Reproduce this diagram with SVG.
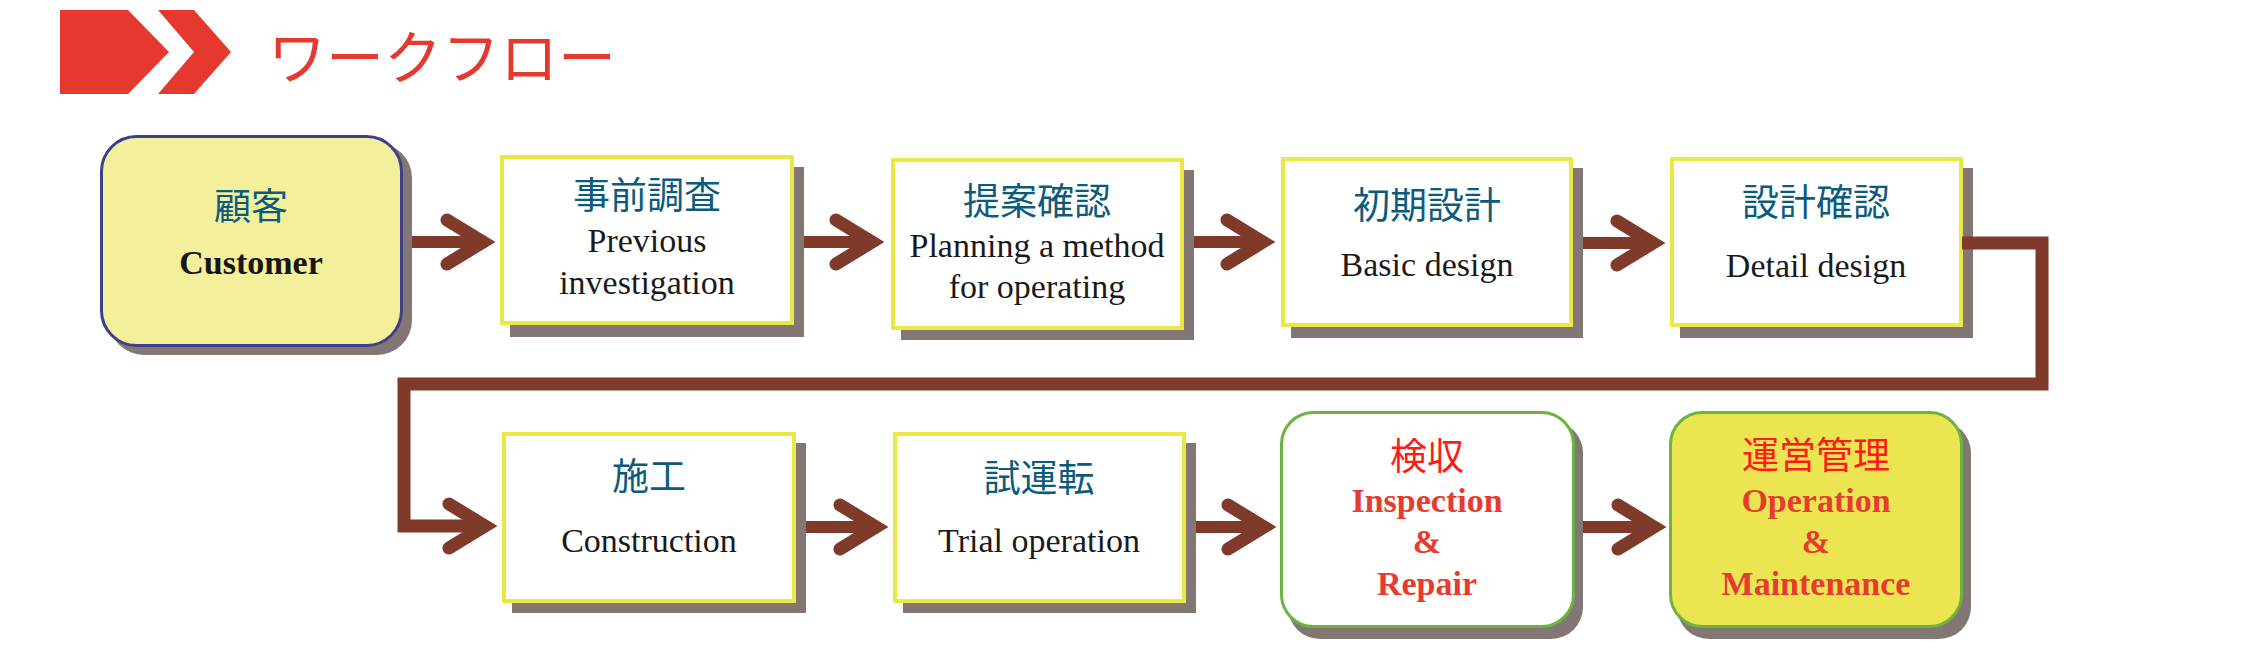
<svg xmlns="http://www.w3.org/2000/svg" xmlns:xlink="http://www.w3.org/1999/xlink" width="2247" height="665" viewBox="0 0 2247 665">
<style>
.shadow{fill:#827774;}
.box{fill:#ffffff;stroke:#ebe844;stroke-width:4;}
.cust{fill:#f3ef9b;stroke:#3e3f8c;stroke-width:3;}
.gbox{fill:#ffffff;stroke:#6db33f;stroke-width:3;}
.ybox{fill:#ece552;stroke:#6db33f;stroke-width:3;}
.jp{font-family:"Noto Sans CJK JP","Noto Sans",sans-serif;font-size:37px;fill:#0c5b7d;text-anchor:middle;}
.jpr{font-family:"Noto Sans CJK JP","Noto Sans",sans-serif;font-size:37px;fill:#ff1a1a;text-anchor:middle;}
.en{font-family:"Liberation Serif","Times New Roman",serif;font-size:34px;fill:#1a1a1a;text-anchor:middle;}
.enb{font-family:"Liberation Serif","Times New Roman",serif;font-size:34px;font-weight:bold;fill:#161616;text-anchor:middle;}
.enr{font-family:"Liberation Serif","Times New Roman",serif;font-size:34px;font-weight:bold;fill:#e63b30;text-anchor:middle;}
.shaft{fill:none;stroke:#7f3a29;stroke-width:12;}
.loop{fill:none;stroke:#7f3a29;stroke-width:13;stroke-linejoin:miter;}
.ahd{fill:none;stroke:#7f3a29;stroke-width:13;stroke-linecap:round;stroke-linejoin:miter;stroke-miterlimit:6;}
.title{font-family:"Noto Sans CJK JP","Noto Sans",sans-serif;font-size:58px;font-weight:400;fill:#e5392f;}
</style>
<defs>
<polyline id="ah" class="ahd" points="-48,-22 -12,0 -48,22"/>
</defs>

<g id="title">
<path d="M60,10 H128 L169,52 L128,94 H60 Z" fill="#e5392f"/>
<path d="M158,10 H194 L231,52 L194,94 H158 L194,52 Z" fill="#e5392f"/>
<text class="title" x="268" y="79">ワークフロー</text>
</g>

<g id="node-customer">
<rect class="shadow" x="109" y="143" width="303" height="212" rx="35"/>
<rect class="cust" x="101.5" y="136.5" width="300" height="209" rx="35"/>
<text class="jp" x="251" y="220">顧客</text>
<text class="enb" x="251" y="274">Customer</text>
</g>

<g id="node-previous">
<rect class="shadow" x="510" y="167" width="294" height="170"/>
<rect class="box" x="502" y="157" width="290" height="166"/>
<text class="jp" x="647" y="209">事前調査</text>
<text class="en" x="647" y="252">Previous</text>
<text class="en" x="647" y="294">investigation</text>
</g>

<g id="node-planning">
<rect class="shadow" x="901" y="170" width="293" height="170"/>
<rect class="box" x="893" y="160" width="289" height="168"/>
<text class="jp" x="1037" y="215">提案確認</text>
<text class="en" x="1037" y="257">Planning a method</text>
<text class="en" x="1037" y="298">for operating</text>
</g>

<g id="node-basic">
<rect class="shadow" x="1291" y="168" width="292" height="170"/>
<rect class="box" x="1283" y="159" width="288" height="166"/>
<text class="jp" x="1427" y="219">初期設計</text>
<text class="en" x="1427" y="276">Basic design</text>
</g>

<g id="node-detail">
<rect class="shadow" x="1680" y="168" width="293" height="170"/>
<rect class="box" x="1672" y="159" width="289" height="166"/>
<text class="jp" x="1816" y="216">設計確認</text>
<text class="en" x="1816" y="277">Detail design</text>
</g>

<g id="node-construction">
<rect class="shadow" x="512" y="443" width="294" height="170"/>
<rect class="box" x="504" y="434" width="290" height="167"/>
<text class="jp" x="649" y="490">施工</text>
<text class="en" x="649" y="552">Construction</text>
</g>

<g id="node-trial">
<rect class="shadow" x="903" y="443" width="293" height="170"/>
<rect class="box" x="895" y="434" width="289" height="167"/>
<text class="jp" x="1039" y="492">試運転</text>
<text class="en" x="1039" y="552">Trial operation</text>
</g>

<g id="node-inspection">
<rect class="shadow" x="1288" y="421" width="295" height="218" rx="32"/>
<rect class="gbox" x="1281.5" y="412.5" width="292" height="214" rx="32"/>
<text class="jpr" x="1427" y="470">検収</text>
<text class="enr" x="1427" y="512">Inspection</text>
<text class="enr" x="1427" y="553">&amp;</text>
<text class="enr" x="1427" y="595">Repair</text>
</g>

<g id="node-operation">
<rect class="shadow" x="1677" y="421" width="294" height="218" rx="32"/>
<rect class="ybox" x="1670.5" y="412.5" width="291" height="214" rx="32"/>
<text class="jpr" x="1816" y="469">運営管理</text>
<text class="enr" x="1816" y="512">Operation</text>
<text class="enr" x="1816" y="553">&amp;</text>
<text class="enr" x="1816" y="595">Maintenance</text>
</g>

<g id="connectors">
<path class="shaft" d="M412,242 H484"/>
<use xlink:href="#ah" x="495" y="242"/>
<path class="shaft" d="M804,242 H873"/>
<use xlink:href="#ah" x="884" y="242"/>
<path class="shaft" d="M1194,242 H1264"/>
<use xlink:href="#ah" x="1275" y="242"/>
<path class="shaft" d="M1583,243 H1654"/>
<use xlink:href="#ah" x="1665" y="243"/>
<path class="loop" d="M1962,243 H2042 V384 H404 V526 H486"/>
<use xlink:href="#ah" x="497" y="526"/>
<path class="shaft" d="M806,527 H877"/>
<use xlink:href="#ah" x="888" y="527"/>
<path class="shaft" d="M1196,527 H1265"/>
<use xlink:href="#ah" x="1276" y="527"/>
<path class="shaft" d="M1583,527 H1655"/>
<use xlink:href="#ah" x="1666" y="527"/>
</g>
</svg>
